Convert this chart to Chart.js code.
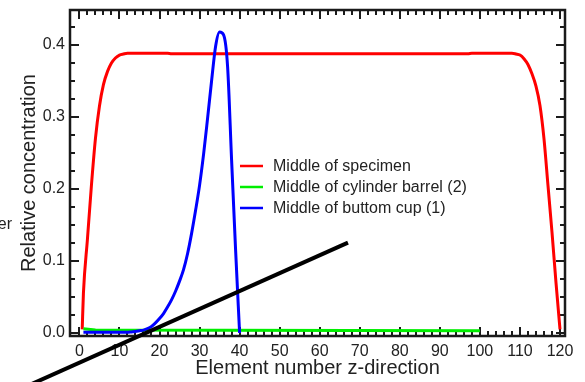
<!DOCTYPE html>
<html><head><meta charset="utf-8">
<script src="https://cdn.jsdelivr.net/npm/chart.js@4/dist/chart.umd.min.js"></script>
<style>html,body{margin:0;padding:0;background:#fff;overflow:hidden}</style>
</head><body>
<canvas id="c" width="585" height="382"></canvas>
<script>
// ---- data ----
const seriesLabels = ["Middle of specimen", "Middle of cylinder barrel (2)", "Middle of buttom cup (1)"];
const seriesColors = ["#ff0000", "#00ee00", "#0000ff"];

const specimenX = [0.7, 1, 2, 3, 4, 5, 6, 7, 8, 9, 10, 11, 12, 22, 23, 97, 98, 108, 109, 110, 111, 112, 113, 114, 115, 116, 117, 118, 119, 120];
const specimenY = [0.005, 0.055, 0.13, 0.205, 0.27, 0.315, 0.345, 0.363, 0.375, 0.382, 0.386, 0.3875, 0.3885, 0.3885, 0.3878, 0.3878, 0.3885, 0.3885, 0.3875, 0.386, 0.381, 0.373, 0.36, 0.343, 0.316, 0.27, 0.205, 0.14, 0.07, 0.005];

const barrelX = [1, 4, 100];
const barrelY = [0.006, 0.004, 0.003];

const cupX = [1, 12, 13, 14, 15, 16, 17, 18, 19, 20, 21, 22, 23, 24, 25, 26, 27, 28, 29, 30, 31, 32, 33, 34, 35, 36, 37, 38, 39, 40];
const cupY = [0.001, 0.001, 0.0015, 0.002, 0.003, 0.004, 0.006, 0.009, 0.014, 0.02, 0.027, 0.036, 0.046, 0.058, 0.072, 0.088, 0.11, 0.138, 0.17, 0.205, 0.248, 0.298, 0.35, 0.398, 0.418, 0.414, 0.37, 0.24, 0.115, 0.0];

const strokeX = [-14.86, 67.06];
const strokeY = [-0.0782, 0.1254];

const xTickLabels = ["0","10","20","30","40","50","60","70","80","90","100","110","120"];
const yTickLabels = ["0.0","0.1","0.2","0.3","0.4"];
const xTitle = "Element number z-direction";
const yTitle = "Relative concentration";
const cutText = "er";

// ---- build ----
const pts = (xs, ys) => xs.map((v, i) => ({x: v, y: ys[i]}));
const FONT = "'Liberation Sans', Arial, Helvetica, sans-serif";
const TXT = "#222";

const framePlugin = {
  id: 'frame',
  beforeDatasetsDraw(chart) {
    const {ctx, chartArea: a, scales: {x, y}} = chart;
    ctx.save();
    ctx.strokeStyle = '#1a1a1a';
    ctx.lineWidth = 2;
    ctx.beginPath();
    for (let i = 0; i <= 60; i++) {
      const v = i * 2;
      const p = Math.round(x.getPixelForValue(v));
      const len = (i % 5 === 0) ? 9 : 5;
      ctx.moveTo(p, a.bottom); ctx.lineTo(p, a.bottom - len);
      ctx.moveTo(p, a.top); ctx.lineTo(p, a.top + len);
    }
    for (let i = 0; i <= 17; i++) {
      const v = i * 0.025;
      const p = Math.round(y.getPixelForValue(v));
      const len = (i % 4 === 0) ? 9 : 5;
      ctx.moveTo(a.left, p); ctx.lineTo(a.left + len, p);
      ctx.moveTo(a.right, p); ctx.lineTo(a.right - len, p);
    }
    ctx.stroke();
    ctx.lineWidth = 2.5;
    ctx.strokeRect(a.left, a.top, a.right - a.left, a.bottom - a.top);
    ctx.restore();
  },
  afterDatasetsDraw(chart) {
    const {ctx} = chart;
    ctx.save();
    ctx.font = "16px " + FONT;
    ctx.textBaseline = 'middle';
    ctx.fillStyle = TXT;
    const rows = [166, 187, 208];
    for (let i = 0; i < 3; i++) {
      const ds = chart.data.datasets[i];
      ctx.strokeStyle = ds.borderColor;
      ctx.lineWidth = 2.5;
      ctx.beginPath();
      ctx.moveTo(240, rows[i]); ctx.lineTo(263, rows[i]);
      ctx.stroke();
      ctx.fillText(ds.label, 273, rows[i] + 1);
    }
    ctx.textAlign = 'right';
    ctx.fillText(cutText, 12, 225);
    ctx.restore();
  }
};

new Chart(document.getElementById('c'), {
  type: 'line',
  data: {
    datasets: [
      {label: seriesLabels[0], data: pts(specimenX, specimenY), borderColor: seriesColors[0], borderWidth: 3, pointRadius: 0, order: 4, cubicInterpolationMode: 'monotone'},
      {label: seriesLabels[1], data: pts(barrelX, barrelY), borderColor: seriesColors[1], borderWidth: 3, pointRadius: 0, order: 3, tension: 0},
      {label: seriesLabels[2], data: pts(cupX, cupY), borderColor: seriesColors[2], borderWidth: 3, pointRadius: 0, order: 2, cubicInterpolationMode: 'monotone'},
      {label: "", data: pts(strokeX, strokeY), borderColor: "#000", borderWidth: 4, pointRadius: 0, order: 1, clip: false}
    ]
  },
  options: {
    responsive: false,
    animation: false,
    devicePixelRatio: 1,
    layout: {padding: {left: 0, top: 10, right: 20, bottom: 0}},
    plugins: {legend: {display: false}, tooltip: {enabled: false}},
    scales: {
      x: {
        type: 'linear', min: -2.35, max: 121.25,
        grid: {display: false, drawTicks: false},
        border: {display: false},
        ticks: {stepSize: 10, includeBounds: false, padding: 6, color: TXT, font: {family: FONT, size: 16},
          maxRotation: 0, autoSkip: false,
          callback: (v) => xTickLabels[Math.round(v / 10)]},
        title: {display: true, text: xTitle, color: TXT, font: {family: FONT, size: 20}, padding: {top: 0, bottom: 2}},
        afterFit(s) { s.height = 46; s.paddingLeft = 0; s.paddingRight = 0; }
      },
      y: {
        type: 'linear', min: -0.0042, max: 0.4486,
        grid: {display: false, drawTicks: false},
        border: {display: false},
        ticks: {stepSize: 0.1, includeBounds: false, padding: 5, color: TXT, font: {family: FONT, size: 16},
          callback: (v) => yTickLabels[Math.round(v * 10)]},
        title: {display: true, text: yTitle, color: TXT, font: {family: FONT, size: 20}, padding: {top: 17, bottom: 0}},
        afterFit(s) { s.width = 70; s.paddingTop = 0; s.paddingBottom = 0; }
      }
    }
  },
  plugins: [framePlugin]
});
</script>
</body></html>
